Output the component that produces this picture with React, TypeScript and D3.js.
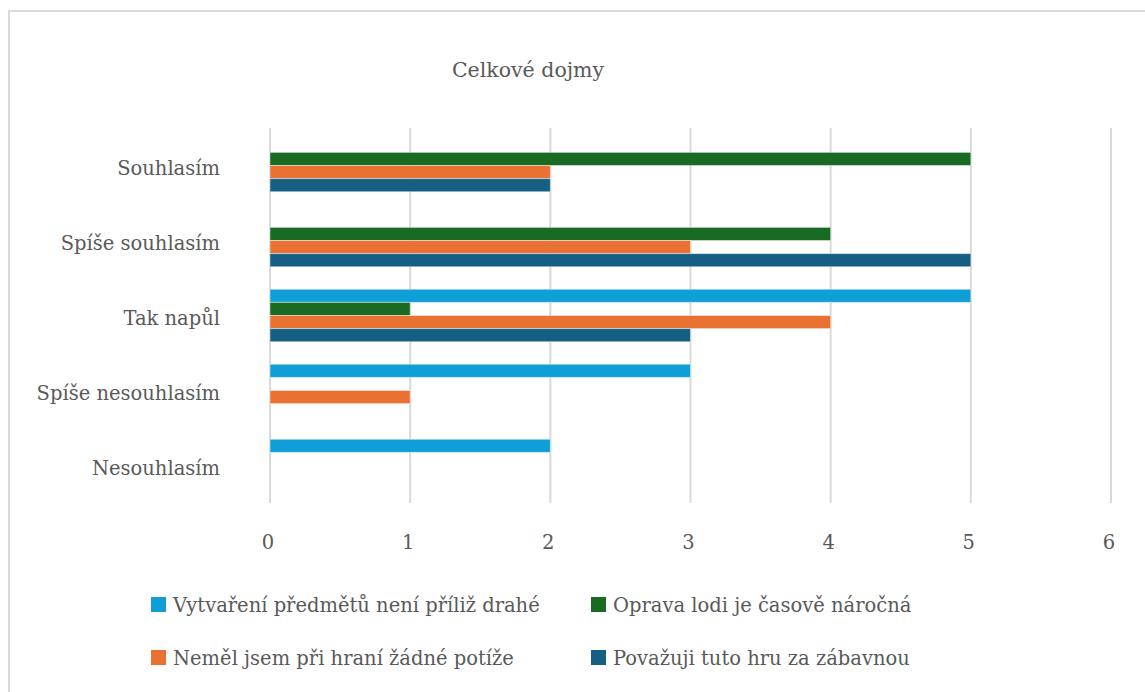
import React from "react";
import * as d3 from "d3";

const title = "Celkové dojmy";
const categories = ["Souhlasím", "Spíše souhlasím", "Tak napůl", "Spíše nesouhlasím", "Nesouhlasím"];
const seriesNames = [
  "Vytvaření předmětů není příliž drahé",
  "Oprava lodi je časově náročná",
  "Neměl jsem při hraní žádné potíže",
  "Považuji tuto hru za zábavnou",
];
const seriesColors = ["#0F9ED5", "#196B24", "#E97132", "#156082"];
const valuesS1 = [0, 0, 5, 3, 2];
const valuesS2 = [5, 4, 1, 0, 0];
const valuesS3 = [2, 3, 4, 1, 0];
const valuesS4 = [2, 5, 3, 0, 0];
const xTicks = [0, 1, 2, 3, 4, 5, 6];

const W = 1145;
const H = 692;
const FONT = "DejaVu Serif";
const FS = 19.5;
const TEXT = "#595959";
const GRID = "#d9d9d9";

export default function App() {
  const allValues = [valuesS1, valuesS2, valuesS3, valuesS4];
  const x = d3.scaleLinear().domain([0, 6]).range([270, 1111]);
  const y = d3.scaleBand<string>().domain(categories).range([128, 503]).paddingInner(0.3).paddingOuter(0.15);
  const ySub = d3.scaleBand<string>().domain(seriesNames).range([0, y.bandwidth()]);
  const gridTop = 128;
  const gridBottom = 503;

  const legendPos = [
    { sx: 151, tx: 173, yy: 597 },
    { sx: 591, tx: 613, yy: 597 },
    { sx: 151, tx: 173, yy: 650 },
    { sx: 591, tx: 613, yy: 650 },
  ];

  return (
    <svg width={W} height={H} style={{ position: "absolute", left: 0, top: 0, background: "#fff" }}>
      <rect x={9} y={11} width={W + 20} height={H + 20} fill="#fff" stroke={GRID} strokeWidth={2} />
      <text x={528} y={77} textAnchor="middle" fontFamily={FONT} fontSize={20.5} fill={TEXT}>{title}</text>
      {xTicks.map((t) => (
        <line key={"g" + t} x1={x(t)} x2={x(t)} y1={gridTop} y2={gridBottom} stroke={GRID} strokeWidth={2} />
      ))}
      {xTicks.map((t) => (
        <text key={"t" + t} x={x(t) - 2} y={549} textAnchor="middle" fontFamily={FONT} fontSize={FS} fill={TEXT}>{t}</text>
      ))}
      {categories.map((c) => (
        <text key={"c" + c} x={220} y={(y(c) as number) + y.bandwidth() / 2 + 9} textAnchor="end" fontFamily={FONT} fontSize={FS} fill={TEXT}>{c}</text>
      ))}
      {seriesNames.map((s, si) =>
        categories.map((c, ci) => {
          const v = allValues[si][ci];
          if (!v) return null;
          return (
            <rect
              key={s + c}
              x={x(0)}
              y={(y(c) as number) + (ySub(s) as number)}
              width={x(v) - x(0)}
              height={ySub.bandwidth()}
              fill={seriesColors[si]}
              stroke="#fff"
              strokeOpacity={0.45}
              strokeWidth={1}
            />
          );
        })
      )}
      {seriesNames.map((s, i) => (
        <g key={"l" + s}>
          <rect x={legendPos[i].sx} y={legendPos[i].yy} width={15} height={15} fill={seriesColors[i]} />
          <text x={legendPos[i].tx} y={legendPos[i].yy + 15} fontFamily={FONT} fontSize={FS} fill={TEXT}>{s}</text>
        </g>
      ))}
    </svg>
  );
}
